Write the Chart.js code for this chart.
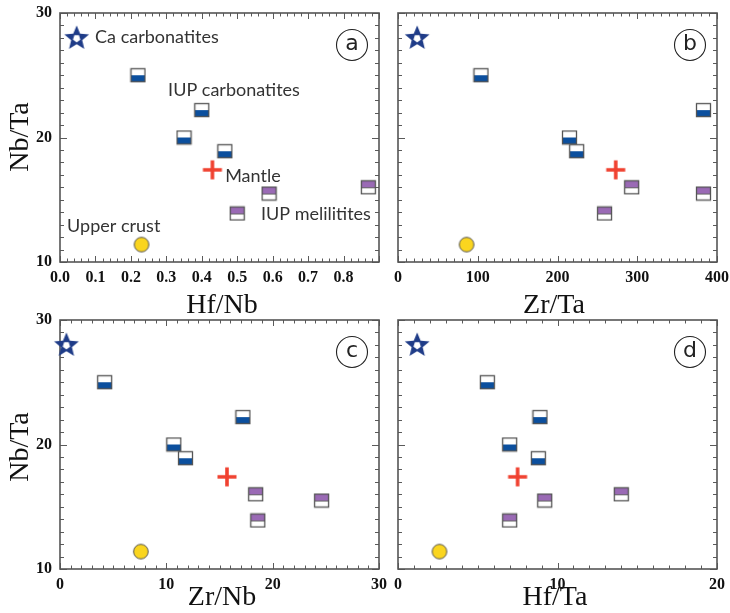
<!DOCTYPE html>
<html><head><meta charset="utf-8">
<script src="https://cdn.jsdelivr.net/npm/chart.js@4.4.1/dist/chart.umd.min.js"></script>
<style>
html,body{margin:0;padding:0;background:#fff;}
#wrap{position:relative;width:730px;height:613px;overflow:hidden;}
#wrap canvas{position:absolute;left:0;top:0;}
</style></head><body>
<div id="wrap">
<canvas id="pa" width="730" height="613"></canvas>
<canvas id="pb" width="730" height="613"></canvas>
<canvas id="pc" width="730" height="613"></canvas>
<canvas id="pd" width="730" height="613"></canvas>
</div>
<script>
// ---- data ----
const nbTaCarb   = [25.0, 22.2, 20.0, 18.9];   // IUP carbonatites
const nbTaMel    = [16.0, 15.5, 13.9];         // IUP melilitites
const nbTaMantle = [17.4];
const nbTaCrust  = [11.4];
const nbTaCaCarb = [28.0];

const hfNbCarb = [0.22, 0.40, 0.35, 0.465];
const hfNbMel  = [0.87, 0.59, 0.50];
const hfNbMantle = [0.43], hfNbCrust = [0.23], hfNbCaCarb = [0.047];

const zrTaCarb = [104, 383, 215, 224];
const zrTaMel  = [293, 383, 259];
const zrTaMantle = [273], zrTaCrust = [86], zrTaCaCarb = [24];

const zrNbCarb = [4.2, 17.2, 10.7, 11.8];
const zrNbMel  = [18.4, 24.6, 18.6];
const zrNbMantle = [15.7], zrNbCrust = [7.6], zrNbCaCarb = [0.6];

const hfTaCarb = [5.6, 8.9, 7.0, 8.8];
const hfTaMel  = [14.0, 9.2, 7.0];
const hfTaMantle = [7.5], hfTaCrust = [2.6], hfTaCaCarb = [1.2];

const yTicks  = [10, 20, 30];
const xTicksA = [0.0, 0.1, 0.2, 0.3, 0.4, 0.5, 0.6, 0.7, 0.8];
const xTicksB = [0, 100, 200, 300, 400];
const xTicksC = [0, 10, 20, 30];
const xTicksD = [0, 10, 20];

// ---- marker images ----
function halfSquare(top, bottom, divider) {
  const c = document.createElement('canvas'); c.width = 17; c.height = 16;
  const g = c.getContext('2d');
  g.fillStyle = top; g.fillRect(1, 1, 15, 7);
  g.fillStyle = bottom; g.fillRect(1, 8, 15, 7);
  if (divider) { g.strokeStyle = '#666'; g.lineWidth = 1; g.beginPath(); g.moveTo(1, 8.5); g.lineTo(16, 8.5); g.stroke(); }
  g.strokeStyle = '#555'; g.lineWidth = 1.3; g.strokeRect(1.5, 1.5, 14, 13);
  return c;
}
function starImg() {
  const c = document.createElement('canvas'); c.width = 28; c.height = 28;
  const g = c.getContext('2d'); g.translate(14, 14.5);
  g.beginPath();
  for (let i = 0; i < 10; i++) {
    const r = i % 2 ? 5.8 : 13; const a = -Math.PI / 2 + i * Math.PI / 5;
    g.lineTo(r * Math.cos(a), r * Math.sin(a));
  }
  g.closePath(); g.fillStyle = '#1f3c88'; g.fill();
  g.beginPath();
  for (let i = 0; i < 5; i++) { const a = -Math.PI / 2 + Math.PI / 5 + i * 2 * Math.PI / 5; g.lineTo(3.9 * Math.cos(a), 3.9 * Math.sin(a)); }
  g.closePath(); g.fillStyle = '#fff'; g.fill();
  return c;
}
function crossImg() {
  const c = document.createElement('canvas'); c.width = 22; c.height = 22;
  const g = c.getContext('2d'); g.strokeStyle = '#f04130'; g.lineWidth = 3.6;
  g.beginPath(); g.moveTo(1.5, 11); g.lineTo(20.5, 11); g.moveTo(11, 1.5); g.lineTo(11, 20.5); g.stroke();
  return c;
}
function circleImg() {
  const c = document.createElement('canvas'); c.width = 18; c.height = 18;
  const g = c.getContext('2d'); g.beginPath(); g.arc(9, 9, 7.3, 0, Math.PI * 2);
  g.fillStyle = '#fad51f'; g.fill(); g.strokeStyle = '#555'; g.lineWidth = 1; g.stroke();
  return c;
}
const imgCarb = halfSquare('#ffffff', '#0b4f9e', false);
const imgMel = halfSquare('#9a6ab5', '#ffffff', true);
const imgStar = starImg(), imgCross = crossImg(), imgCircle = circleImg();

const pts = (xs, ys) => xs.map((x, i) => ({ x: x, y: ys[i] }));

// ---- decoration plugin: frame, inward ticks, titles, letters, notes ----
const deco = {
  id: 'deco',
  beforeDatasetsDraw(chart, args, o) {
    const { ctx, chartArea: a } = chart; const x = chart.scales.x, y = chart.scales.y;
    ctx.save();
    ctx.strokeStyle = '#5a5a5a'; ctx.lineWidth = 1;
    const isMajor = (v, m) => Math.abs(v / m - Math.round(v / m)) < 1e-6;
    const nx = Math.round((x.max - x.min) / o.xMinor);
    ctx.beginPath();
    for (let i = 0; i <= nx; i++) {
      const v = x.min + i * o.xMinor; const p = Math.round(x.getPixelForValue(v)) + 0.5;
      const L = isMajor(v, o.xMajor) ? 6 : 3.5;
      ctx.moveTo(p, a.bottom); ctx.lineTo(p, a.bottom - L);
      ctx.moveTo(p, a.top); ctx.lineTo(p, a.top + L);
    }
    const ny = Math.round((y.max - y.min) / 1);
    for (let i = 0; i <= ny; i++) {
      const v = y.min + i; const p = Math.round(y.getPixelForValue(v)) + 0.5;
      const L = isMajor(v, 10) ? 7 : 4;
      ctx.moveTo(a.left, p); ctx.lineTo(a.left + L, p);
      ctx.moveTo(a.right, p); ctx.lineTo(a.right - L, p);
    }
    ctx.stroke();
    ctx.lineWidth = 1.6; ctx.strokeStyle = '#555';
    ctx.strokeRect(a.left, a.top, a.right - a.left, a.bottom - a.top);
    ctx.restore();
  },
  afterDraw(chart, args, o) {
    const { ctx, chartArea: a } = chart; const x = chart.scales.x, y = chart.scales.y;
    ctx.save();
    // axis titles
    ctx.fillStyle = '#111'; ctx.font = '28px "Liberation Serif", serif';
    ctx.textAlign = 'center'; ctx.textBaseline = 'alphabetic';
    ctx.fillText(o.xTitle, o.xTitlePos[0], o.xTitlePos[1]);
    if (o.yTitle) {
      ctx.save(); ctx.translate(o.yTitlePos[0], o.yTitlePos[1]); ctx.rotate(-Math.PI / 2);
      ctx.fillText(o.yTitle, 0, 0); ctx.restore();
    }
    // panel letter
    const cx = a.right - 27, cy = a.top + 32;
    ctx.beginPath(); ctx.arc(cx, cy, 15.5, 0, Math.PI * 2); ctx.lineWidth = 1.1; ctx.strokeStyle = '#222'; ctx.stroke();
    ctx.font = '22px "DejaVu Sans", sans-serif'; ctx.textBaseline = 'middle'; ctx.fillStyle = '#222';
    ctx.fillText(o.letter, cx, cy - 1);
    // notes
    ctx.font = '18px Lato, sans-serif'; ctx.fillStyle = '#333'; ctx.textAlign = 'left'; ctx.textBaseline = 'middle';
    (o.notes || []).forEach(n => ctx.fillText(n.text, x.getPixelForValue(n.x), y.getPixelForValue(n.y)));
    ctx.restore();
  }
};

function makePanel(id, p) {
  const tickFont = { family: '"Liberation Serif", serif', size: 16, weight: 'bold' };
  new Chart(document.getElementById(id), {
    type: 'scatter',
    data: {
      datasets: [
        { label: 'Ca carbonatites', data: pts(p.caX, nbTaCaCarb), pointStyle: imgStar },
        { label: 'IUP carbonatites', data: pts(p.carbX, nbTaCarb), pointStyle: imgCarb },
        { label: 'IUP melilitites', data: pts(p.melX, nbTaMel), pointStyle: imgMel },
        { label: 'Mantle', data: pts(p.mantleX, nbTaMantle), pointStyle: imgCross },
        { label: 'Upper crust', data: pts(p.crustX, nbTaCrust), pointStyle: imgCircle }
      ]
    },
    options: {
      responsive: false, animation: false, devicePixelRatio: 1,
      events: [],
      layout: { padding: p.pad },
      plugins: { legend: { display: false }, tooltip: { enabled: false }, deco: p.deco },
      datasets: { scatter: { clip: false, pointRadius: 8 } },
      scales: {
        x: {
          type: 'linear', min: p.xMin, max: p.xMax,
          afterBuildTicks: s => { s.ticks = p.xTicks.map(v => ({ value: v })); },
          ticks: { font: tickFont, color: '#111', padding: 6, maxRotation: 0, autoSkip: false,
                   callback: v => p.fmt(v) },
          grid: { display: false, drawTicks: false }, border: { display: false },
          afterFit: s => { s.height = p.xH; s.paddingLeft = 0; s.paddingRight = 0; }
        },
        y: {
          type: 'linear', min: 10, max: 30,
          afterBuildTicks: s => { s.ticks = yTicks.map(v => ({ value: v })); },
          ticks: { display: p.yLabels, font: tickFont, color: '#111', padding: 8 },
          grid: { display: false, drawTicks: false }, border: { display: false },
          afterFit: s => { s.width = 60; s.paddingTop = 0; s.paddingBottom = 0; }
        }
      }
    },
    plugins: [deco]
  });
}

makePanel('pa', {
  caX: hfNbCaCarb, carbX: hfNbCarb, melX: hfNbMel, mantleX: hfNbMantle, crustX: hfNbCrust,
  xMin: 0, xMax: 0.9, xTicks: xTicksA, fmt: v => v.toFixed(1), yLabels: true, xH: 48,
  pad: { left: 0, top: 13, right: 351, bottom: 303 },
  deco: { xMinor: 0.02, xMajor: 0.1, xTitle: 'Hf/Nb', xTitlePos: [222, 313], yTitle: 'Nb/Ta', yTitlePos: [28, 137], letter: 'a',
    notes: [
      { text: 'Ca carbonatites', x: 0.099, y: 28.07 },
      { text: 'IUP carbonatites', x: 0.305, y: 23.8 },
      { text: 'Mantle', x: 0.466, y: 16.9 },
      { text: 'IUP melilitites', x: 0.567, y: 13.85 },
      { text: 'Upper crust', x: 0.02, y: 12.9 }
    ] }
});
makePanel('pb', {
  caX: zrTaCaCarb, carbX: zrTaCarb, melX: zrTaMel, mantleX: zrTaMantle, crustX: zrTaCrust,
  xMin: 0, xMax: 400, xTicks: xTicksB, fmt: v => String(v), yLabels: false, xH: 48,
  pad: { left: 338, top: 13, right: 13, bottom: 303 },
  deco: { xMinor: 10, xMajor: 100, xTitle: 'Zr/Ta', xTitlePos: [554, 313], letter: 'b' }
});
makePanel('pc', {
  caX: zrNbCaCarb, carbX: zrNbCarb, melX: zrNbMel, mantleX: zrNbMantle, crustX: zrNbCrust,
  xMin: 0, xMax: 30, xTicks: xTicksC, fmt: v => String(v), yLabels: true, xH: 44,
  pad: { left: 0, top: 320, right: 351, bottom: 0 },
  deco: { xMinor: 1, xMajor: 10, xTitle: 'Zr/Nb', xTitlePos: [222, 605], yTitle: 'Nb/Ta', yTitlePos: [28, 447], letter: 'c' }
});
makePanel('pd', {
  caX: hfTaCaCarb, carbX: hfTaCarb, melX: hfTaMel, mantleX: hfTaMantle, crustX: hfTaCrust,
  xMin: 0, xMax: 20, xTicks: xTicksD, fmt: v => String(v), yLabels: false, xH: 44,
  pad: { left: 338, top: 320, right: 13, bottom: 0 },
  deco: { xMinor: 1, xMajor: 10, xTitle: 'Hf/Ta', xTitlePos: [555, 605], letter: 'd' }
});
</script>
</body></html>
